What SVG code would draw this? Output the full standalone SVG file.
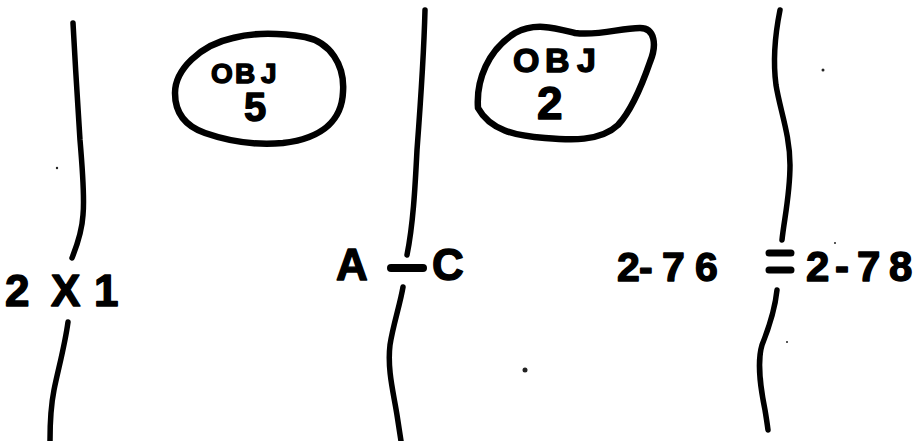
<svg xmlns="http://www.w3.org/2000/svg" width="917" height="441" viewBox="0 0 917 441">
<style>
.ln{fill:none;stroke:#000;stroke-width:5.5;stroke-linecap:round;stroke-linejoin:round}
.bar{fill:none;stroke:#000;stroke-width:8;stroke-linecap:round}
.blob{fill:none;stroke:#000;stroke-width:6.5;stroke-linejoin:round}
.t{font-family:"Liberation Sans",Arial,sans-serif;font-weight:bold;fill:#000;stroke:#000;stroke-width:1.4;stroke-linejoin:round}
.dot{fill:#222}
</style>
<rect width="917" height="441" fill="#fff"/>
<g id="connectors">
<path class="ln" d="M73,23 C75,60 78,110 80,140 C83,175 84,205 83,215 C82,232 76,248 72,258"/>
<path class="ln" d="M68,322 C65,345 58,370 54,390 C51,405 50,425 50,441"/>
<path class="ln" d="M425,10 C424,50 420,110 417,150 C415,190 413,225 407,255"/>
<path class="ln" d="M403,287 C400,305 393,325 390,345 C387,370 394,395 397,415 C399,428 401,441 401,441"/>
<path class="bar" d="M391,268 L423,268"/>
<path class="ln" d="M780,10 C776,30 772,55 776,85 C780,110 790,135 790,165 C790,195 784,220 782,240"/>
<path class="ln" d="M777,290 C775,310 768,330 762,345 C756,365 762,395 765,410 C767,422 768,430 768,430"/>
<path class="bar" d="M769,253 L791,253 M769,270 L791,270" style="stroke-width:7"/>
</g>
<g id="obj5">
<path class="blob" d="M175,93 C175,70 200,45 233,38 C255,32 280,33 305,37 C330,42 345,65 343,92 C342,118 325,138 283,143 C250,146 225,140 205,133 C185,126 175,112 175,93 Z"/>
<text class="t" y="83" font-size="28"><tspan x="211">O</tspan><tspan x="235">B</tspan><tspan x="261">J</tspan></text>
<text class="t" x="244" y="121" font-size="40">5</text>
</g>
<g id="obj2">
<path class="blob" d="M478,108 C476,80 488,50 515,33 C535,22 555,28 575,33 C600,36 620,28 640,28 C655,28 657,45 650,62 C642,85 632,110 618,125 C600,142 570,140 545,138 C515,136 490,130 478,108 Z"/>
<text class="t" y="72" font-size="34"><tspan x="513">O</tspan><tspan x="545">B</tspan><tspan x="577">J</tspan></text>
<text class="t" x="537" y="119" font-size="46">2</text>
</g>
<g id="label-2x1">
<text class="t" y="306" font-size="44"><tspan x="5">2</tspan><tspan x="51">X</tspan><tspan x="94">1</tspan></text>
</g>
<g id="label-ac">
<text class="t" y="280" font-size="44"><tspan x="336">A</tspan><tspan x="432">C</tspan></text>
</g>
<g id="label-276">
<text class="t" y="281" font-size="41"><tspan x="617">2</tspan><tspan x="639">-</tspan><tspan x="662">7</tspan><tspan x="695">6</tspan></text>
</g>
<g id="label-278">
<text class="t" y="281" font-size="42"><tspan x="806">2</tspan><tspan x="835">-</tspan><tspan x="857">7</tspan><tspan x="889">8</tspan></text>
</g>
<g id="specks">
<circle class="dot" cx="57" cy="168" r="1.2"/>
<circle class="dot" cx="525" cy="370" r="2.5"/>
<circle class="dot" cx="823" cy="70" r="1.5"/>
<circle class="dot" cx="787" cy="342" r="1"/>
<circle class="dot" cx="835" cy="243" r="1"/>
</g>
</svg>
